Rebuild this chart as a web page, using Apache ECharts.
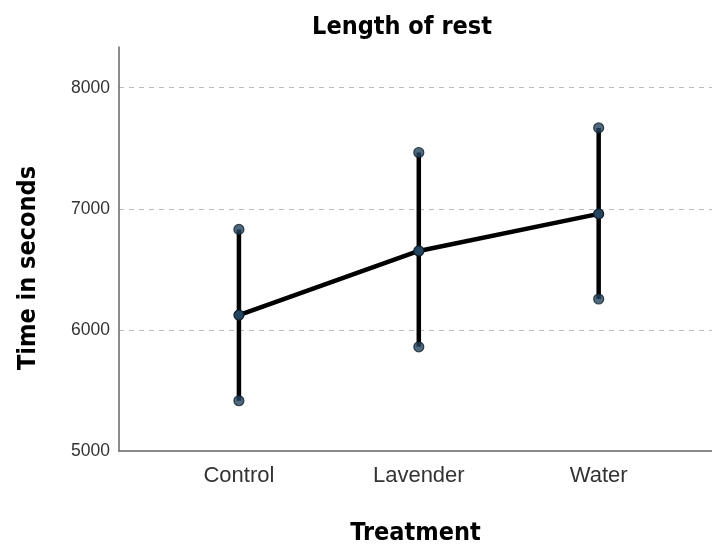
<!DOCTYPE html>
<html>
<head>
<meta charset="utf-8">
<script src="https://cdn.jsdelivr.net/npm/echarts@6/dist/echarts.min.js"></script>
<style>html,body{margin:0;padding:0;background:#fff;}#c{width:712px;height:550px;}</style>
</head>
<body>
<div id="c"></div>
<script>
const categories = ['Control', 'Lavender', 'Water'];
const means = [6122, 6652, 6958];
const upper = [6830, 7465, 7668];
const lower = [5415, 5860, 6255];
const yTicks = [5000, 6000, 7000, 8000];

const chart = echarts.init(document.getElementById('c'));
const pos = categories.map((c, i) => i + 1);
const condensed = "'Liberation Sans Narrow','DejaVu Sans Condensed','Roboto Condensed',sans-serif";
const markerStyle = { color: '#24445f', borderColor: '#0e1e2c', borderWidth: 1.2 };

chart.setOption({
  animation: false,
  title: {
    text: 'Length of rest', left: 397, top: 10, textAlign: 'center',
    textStyle: { fontFamily: condensed, fontWeight: 'bold', fontSize: 25, color: '#000' }
  },
  grid: { left: 119, right: 0, top: 47, bottom: 99, outerBoundsMode: 'none', containLabel: false },
  xAxis: {
    type: 'value', min: 1 / 3, max: 3.63,
    name: 'Treatment', nameLocation: 'middle', nameGap: 70,
    nameTextStyle: { fontFamily: condensed, fontWeight: 'bold', fontSize: 25, color: '#000' },
    axisLine: { lineStyle: { color: '#666', width: 1.5 } },
    axisTick: { show: false },
    splitLine: { show: false },
    axisLabel: {
      customValues: pos, margin: 14, fontSize: 22, color: '#333',
      fontFamily: "'Liberation Sans',Arial,sans-serif",
      formatter: v => categories[Math.round(v) - 1] || ''
    }
  },
  yAxis: {
    type: 'value', min: 5000, max: 8336, interval: 1000,
    name: 'Time in seconds', nameLocation: 'middle', nameGap: 78, nameRotate: 90,
    nameTextStyle: { fontFamily: condensed, fontWeight: 'bold', fontSize: 25, color: '#000', padding: [0, 38, 0, 0] },
    axisLine: { show: true, lineStyle: { color: '#666', width: 1.5 } },
    axisTick: { show: false },
    axisLabel: {
      customValues: yTicks, margin: 9, fontSize: 17.5, color: '#333',
      fontFamily: "'Liberation Sans',Arial,sans-serif",
      formatter: v => String(v)
    },
    splitLine: { showMaxLine: false, showMinLine: false, lineStyle: { color: '#bbb', type: [5, 5], width: 1 } }
  },
  series: [
    {
      type: 'custom',
      data: categories.map((c, i) => [pos[i], lower[i], upper[i]]),
      renderItem: (params, api) => {
        const a = api.coord([api.value(0), api.value(1)]);
        const b = api.coord([api.value(0), api.value(2)]);
        return { type: 'line', shape: { x1: a[0], y1: a[1], x2: b[0], y2: b[1] },
          style: { stroke: '#000', lineWidth: 4.5 } };
      },
      z: 2
    },
    {
      type: 'line',
      data: categories.map((c, i) => [pos[i], means[i]]),
      lineStyle: { color: '#000', width: 4.5 },
      symbol: 'circle', symbolSize: 10,
      itemStyle: markerStyle, z: 3
    },
    {
      type: 'scatter',
      data: categories.map((c, i) => [pos[i], upper[i]]).concat(categories.map((c, i) => [pos[i], lower[i]])),
      symbol: 'circle', symbolSize: 10,
      itemStyle: markerStyle, z: 4
    }
  ]
});
</script>
</body>
</html>
